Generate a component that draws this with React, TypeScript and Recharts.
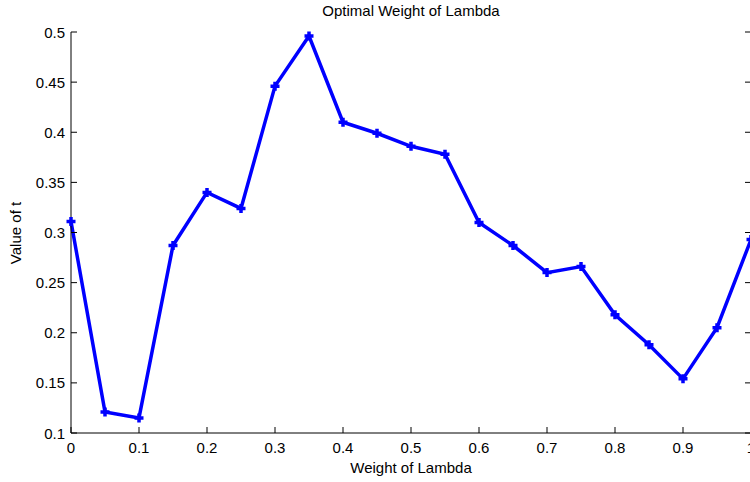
import React from "react";
import { LineChart, Line, XAxis, YAxis, Label } from "recharts";

const lambdas = [0, 0.05, 0.1, 0.15, 0.2, 0.25, 0.3, 0.35, 0.4, 0.45, 0.5, 0.55, 0.6, 0.65, 0.7, 0.75, 0.8, 0.85, 0.9, 0.95, 1];
const tValues = [0.311, 0.121, 0.115, 0.287, 0.34, 0.324, 0.446, 0.496, 0.41, 0.399, 0.386, 0.378, 0.31, 0.287, 0.26, 0.266, 0.218, 0.188, 0.154, 0.205, 0.293];
const xTicks = [0, 0.1, 0.2, 0.3, 0.4, 0.5, 0.6, 0.7, 0.8, 0.9, 1];
const yTicks = [0.1, 0.15, 0.2, 0.25, 0.3, 0.35, 0.4, 0.45, 0.5];

const data = lambdas.map((l, i) => ({ lambda: l, t: tValues[i] }));

const FONT = "'Liberation Sans', Arial, sans-serif";
const fmt = (v: number) => String(Math.round(v * 100) / 100);

const BottomTick = (p: any) => (
  <g>
    <line x1={p.x} y1={p.y} x2={p.x} y2={p.y - 6} stroke="#000" />
    <text x={p.x} y={p.y + 20} textAnchor="middle" fontSize={15} fontFamily={FONT} fill="#000">
      {fmt(p.payload.value)}
    </text>
  </g>
);
const TopTick = (p: any) => <line x1={p.x} y1={p.y} x2={p.x} y2={p.y + 6} stroke="#000" />;
const LeftTick = (p: any) => (
  <g>
    <line x1={p.x} y1={p.y} x2={p.x + 6} y2={p.y} stroke="#000" />
    <text x={p.x - 6} y={p.y + 5.5} textAnchor="end" fontSize={15} fontFamily={FONT} fill="#000">
      {fmt(p.payload.value)}
    </text>
  </g>
);
const RightTick = (p: any) => <line x1={p.x} y1={p.y} x2={p.x - 6} y2={p.y} stroke="#000" />;

const PlusDot = (p: any) => {
  const { cx, cy, index } = p;
  return (
    <path
      key={"d" + index}
      d={`M${cx - 4.5},${cy}h9M${cx},${cy - 4.5}v9`}
      stroke="#0000ff"
      strokeWidth={3.5}
      fill="none"
    />
  );
};

export default function App() {
  return (
    <div
      style={{
        position: "fixed",
        top: 0,
        left: 0,
        width: 750,
        height: 482,
        overflow: "hidden",
        background: "#fff",
      }}
    >
      <div
        style={{
          position: "absolute",
          top: 2,
          left: 0,
          width: 822,
          textAlign: "center",
          fontFamily: FONT,
          fontSize: 15,
          color: "#000",
        }}
      >
        Optimal Weight of Lambda
      </div>
      <LineChart width={760} height={482} data={data} margin={{ top: 32, right: 0, bottom: 0, left: 0 }}>
        <XAxis
          dataKey="lambda"
          type="number"
          domain={[0, 1]}
          ticks={xTicks}
          height={49}
          tickSize={0}
          tickMargin={0}
          tickLine={false}
          tick={BottomTick}
          axisLine={{ stroke: "#000" }}
          interval={0}
        >
          <Label
            content={() => (
              <text x={411} y={473} textAnchor="middle" fontSize={15} fontFamily={FONT} fill="#000">
                Weight of Lambda
              </text>
            )}
          />
        </XAxis>
        <XAxis
          xAxisId="top"
          orientation="top"
          dataKey="lambda"
          type="number"
          domain={[0, 1]}
          ticks={xTicks}
          height={0}
          tickSize={0}
          tickMargin={0}
          tickLine={false}
          tick={TopTick}
          axisLine={{ stroke: "#000" }}
          interval={0}
        />
        <YAxis
          type="number"
          domain={[0.1, 0.5]}
          ticks={yTicks}
          width={71}
          tickSize={0}
          tickMargin={0}
          tickLine={false}
          tick={LeftTick}
          axisLine={{ stroke: "#000" }}
          interval={0}
        >
          <Label
            content={() => (
              <text
                x={21}
                y={233}
                transform="rotate(-90 21 233)"
                textAnchor="middle"
                fontSize={15}
                fontFamily={FONT}
                fill="#000"
              >
                Value of t
              </text>
            )}
          />
        </YAxis>
        <YAxis
          yAxisId="right"
          orientation="right"
          type="number"
          domain={[0.1, 0.5]}
          ticks={yTicks}
          width={9}
          tickSize={0}
          tickMargin={0}
          tickLine={false}
          tick={RightTick}
          axisLine={{ stroke: "#000" }}
          interval={0}
        />
        <Line
          xAxisId="top"
          yAxisId="right"
          dataKey="t"
          stroke="none"
          dot={false}
          activeDot={false}
          legendType="none"
          isAnimationActive={false}
        />
        <Line
          dataKey="t"
          stroke="#0000ff"
          strokeWidth={3.5}
          dot={PlusDot}
          activeDot={false}
          isAnimationActive={false}
        />
      </LineChart>
    </div>
  );
}
